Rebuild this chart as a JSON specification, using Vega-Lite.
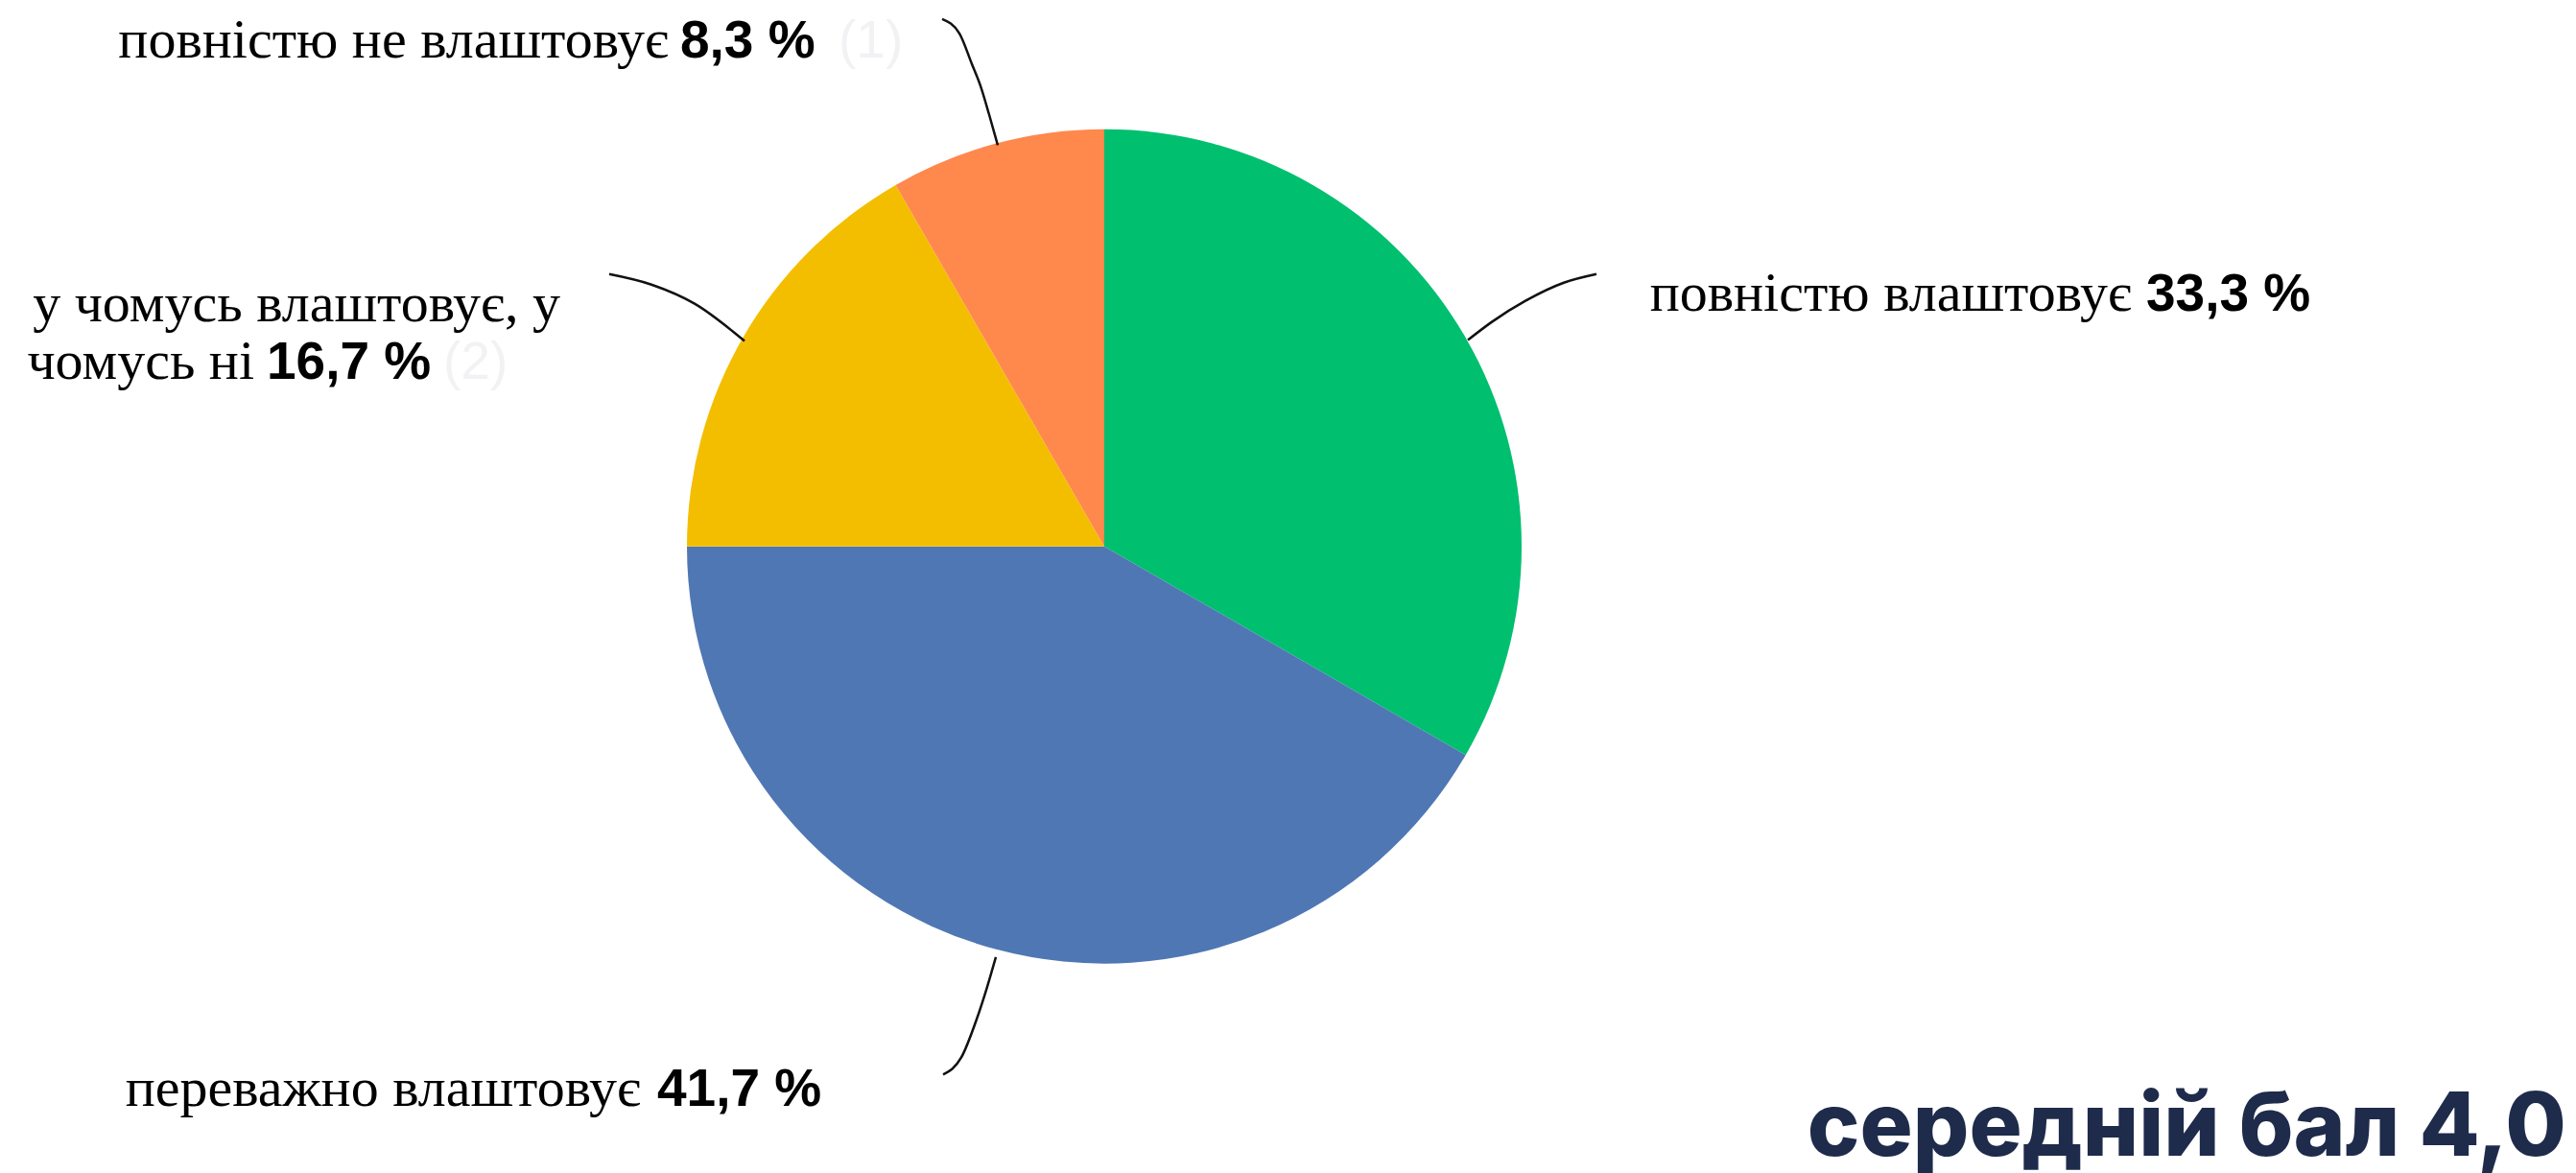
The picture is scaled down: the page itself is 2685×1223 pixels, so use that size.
{
  "$schema": "https://vega.github.io/schema/vega-lite/v6.json",
  "autosize": {"type": "fit", "contains": "padding"},
  "width": 2685,
  "height": 1223,
  "padding": 0,
  "background": "white",
  "config": {"view": {"stroke": null}},
  "datasets": {
    "pie": [
      {"answer": "повністю влаштовує", "count": 4, "rank": 1},
      {"answer": "переважно влаштовує", "count": 5, "rank": 2},
      {"answer": "у чомусь влаштовує, у чомусь ні", "count": 2, "rank": 3},
      {"answer": "повністю не влаштовує", "count": 1, "rank": 4}
    ],
    "leaders": [
      {"leader": "a", "seq": 1, "px": 982, "py": 20},
      {"leader": "a", "seq": 2, "px": 1000, "py": 35},
      {"leader": "a", "seq": 3, "px": 1013, "py": 67},
      {"leader": "a", "seq": 4, "px": 1022, "py": 90},
      {"leader": "a", "seq": 5, "px": 1031, "py": 120},
      {"leader": "a", "seq": 6, "px": 1040, "py": 152},
      {"leader": "b", "seq": 1, "px": 635, "py": 287},
      {"leader": "b", "seq": 2, "px": 679, "py": 298},
      {"leader": "b", "seq": 3, "px": 724, "py": 318},
      {"leader": "b", "seq": 4, "px": 776, "py": 357},
      {"leader": "c", "seq": 1, "px": 1664, "py": 287},
      {"leader": "c", "seq": 2, "px": 1630, "py": 296},
      {"leader": "c", "seq": 3, "px": 1590, "py": 315},
      {"leader": "c", "seq": 4, "px": 1555, "py": 337},
      {"leader": "c", "seq": 5, "px": 1530, "py": 356},
      {"leader": "d", "seq": 1, "px": 1038, "py": 1002},
      {"leader": "d", "seq": 2, "px": 1029, "py": 1033},
      {"leader": "d", "seq": 3, "px": 1018, "py": 1067},
      {"leader": "d", "seq": 4, "px": 1002, "py": 1107},
      {"leader": "d", "seq": 5, "px": 983, "py": 1125}
    ],
    "labels": [
      {"kind": "name", "text": "повністю не влаштовує", "px": 697, "py": 60},
      {"kind": "pct", "text": "8,3 %", "px": 709, "py": 60},
      {"kind": "count", "text": "(1)", "px": 874, "py": 60},
      {"kind": "name", "text": "повністю влаштовує", "px": 2222, "py": 325},
      {"kind": "pct", "text": "33,3 %", "px": 2237, "py": 325},
      {"kind": "name", "text": "у чомусь влаштовує, у", "px": 584, "py": 336},
      {"kind": "name", "text": "чомусь ні", "px": 265, "py": 397},
      {"kind": "pct", "text": "16,7 %", "px": 278, "py": 397},
      {"kind": "count", "text": "(2)", "px": 462, "py": 397},
      {"kind": "name", "text": "переважно влаштовує", "px": 668, "py": 1158},
      {"kind": "pct", "text": "41,7 %", "px": 685, "py": 1158},
      {"kind": "avg", "text": "середній бал 4,0", "px": 2675, "py": 1210}
    ]
  },
  "layer": [
    {
      "data": {"name": "pie"},
      "mark": {"type": "arc", "radius": 435},
      "encoding": {
        "theta": {"field": "count", "type": "quantitative", "stack": true},
        "order": {"field": "rank", "type": "quantitative"},
        "color": {
          "field": "answer",
          "type": "nominal",
          "legend": null,
          "scale": {
            "domain": ["повністю влаштовує", "переважно влаштовує", "у чомусь влаштовує, у чомусь ні", "повністю не влаштовує"],
            "range": ["#00BF6F", "#4F77B4", "#F4BE00", "#FF884D"]
          }
        },
        "x": {"datum": 1151, "type": "quantitative", "scale": {"domain": [0, 2685], "nice": false, "zero": false}, "axis": null},
        "y": {"datum": 572, "type": "quantitative", "scale": {"domain": [0, 1223], "nice": false, "zero": false, "reverse": true}, "axis": null}
      }
    },
    {
      "data": {"name": "leaders"},
      "mark": {"type": "line", "color": "#111111", "strokeWidth": 2.5, "interpolate": "monotone"},
      "encoding": {
        "detail": {"field": "leader", "type": "nominal"},
        "order": {"field": "seq", "type": "quantitative"},
        "x": {"field": "px", "type": "quantitative"},
        "y": {"field": "py", "type": "quantitative"}
      }
    },
    {
      "data": {"name": "labels"},
      "transform": [{"filter": "datum.kind === 'name'"}],
      "mark": {"type": "text", "font": "Liberation Serif", "fontSize": 58, "align": "right", "baseline": "alphabetic", "color": "#000000"},
      "encoding": {
        "x": {"field": "px", "type": "quantitative"},
        "y": {"field": "py", "type": "quantitative"},
        "text": {"field": "text"}
      }
    },
    {
      "data": {"name": "labels"},
      "transform": [{"filter": "datum.kind === 'pct'"}],
      "mark": {"type": "text", "font": "Liberation Sans", "fontWeight": "bold", "fontSize": 55, "align": "left", "baseline": "alphabetic", "color": "#000000"},
      "encoding": {
        "x": {"field": "px", "type": "quantitative"},
        "y": {"field": "py", "type": "quantitative"},
        "text": {"field": "text"}
      }
    },
    {
      "data": {"name": "labels"},
      "transform": [{"filter": "datum.kind === 'count'"}],
      "mark": {"type": "text", "font": "Liberation Sans", "fontSize": 55, "align": "left", "baseline": "alphabetic", "color": "#F1F2F4"},
      "encoding": {
        "x": {"field": "px", "type": "quantitative"},
        "y": {"field": "py", "type": "quantitative"},
        "text": {"field": "text"}
      }
    },
    {
      "data": {"name": "labels"},
      "transform": [{"filter": "datum.kind === 'avg'"}],
      "mark": {"type": "text", "font": "Inter", "fontWeight": 800, "fontSize": 92, "align": "right", "baseline": "alphabetic", "color": "#1E2B4B"},
      "encoding": {
        "x": {"field": "px", "type": "quantitative"},
        "y": {"field": "py", "type": "quantitative"},
        "text": {"field": "text"}
      }
    }
  ]
}
